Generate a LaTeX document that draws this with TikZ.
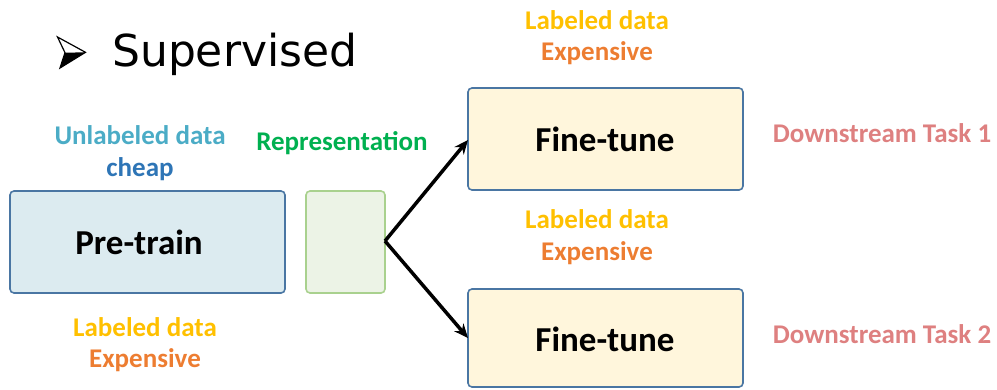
\documentclass[tikz,border=0pt]{standalone}
\usepackage{fontspec}
\setmainfont{Carlito}
\newfontfamily\titlefont{DejaVu Sans}
\usetikzlibrary{arrows.meta}
\definecolor{ptfill}{HTML}{DCEBF0}
\definecolor{ptedge}{HTML}{4A76A3}
\definecolor{repfill}{HTML}{ECF3E6}
\definecolor{repedge}{HTML}{A9D18E}
\definecolor{ftfill}{HTML}{FFF6DC}
\definecolor{unlab}{HTML}{4BACC6}
\definecolor{cheapc}{HTML}{2E75B6}
\definecolor{repc}{HTML}{00B050}
\definecolor{labc}{HTML}{FFC000}
\definecolor{expc}{HTML}{ED7D31}
\definecolor{taskc}{HTML}{DE8080}
\tikzset{
  stagebox/.style={draw=ptedge, line width=1.6pt, rounded corners=4pt},
  boxlabel/.style={font=\fontsize{35}{40}\selectfont\bfseries, text=black},
  note/.style={font=\fontsize{27}{31}\selectfont\bfseries, inner sep=0pt},
  link/.style={line width=3.5pt, -{Stealth[length=14pt,width=12pt]}},
}
\begin{document}
\begin{tikzpicture}[x=1pt,y=-1pt]
\useasboundingbox (0,0) rectangle (997,389);

% heading: lit arrowhead bullet and title
\draw[line width=1.2pt, line join=miter] (57.5,37) -- (85.5,52.3) -- (60,68) -- (65,52.7) -- cycle;
\fill (65,52.7) -- (85.5,52.3) -- (60,68) -- cycle;
\node[font=\titlefont\fontsize{44}{50}\selectfont, inner sep=0pt, anchor=west] (title) at (112,54) {Supervised};

% boxes
\draw[stagebox, fill=ptfill] (10,191) rectangle (285,293);
\node[boxlabel] (pretrain) at (139,242) {Pre-train};
\draw[stagebox, draw=repedge, fill=repfill] (306,191) rectangle (385,293);
\coordinate (repr) at (385,241);
\draw[stagebox, fill=ftfill] (468,88) rectangle (743,190);
\node[boxlabel] (ft1) at (605,139) {Fine-tune};
\draw[stagebox, fill=ftfill] (468,289) rectangle (743,387);
\node[boxlabel] (ft2) at (605,339) {Fine-tune};
\coordinate (ft1in) at (468,140);
\coordinate (ft2in) at (468,338);

% connectors
\draw[link] (repr) -- (ft1in);
\draw[link] (repr) -- (ft2in);

% annotations
\node[note, text=unlab] (unl) at (140,135) {Unlabeled data};
\node[note, text=cheapc] (cheap) at (140,169) {cheap};
\node[note, text=repc] (rep) at (342,143) {Representation};
\node[note, text=labc] (lab0) at (145,327) {Labeled data};
\node[note, text=expc] (exp0) at (145,360) {Expensive};
\node[note, text=labc] (lab1) at (597,20) {Labeled data};
\node[note, text=expc] (exp1) at (597,53) {Expensive};
\node[note, text=labc] (lab2) at (597,219) {Labeled data};
\node[note, text=expc] (exp2) at (597,253) {Expensive};
\node[note, text=taskc] (task1) at (882,133) {Downstream Task 1};
\node[note, text=taskc] (task2) at (882,334) {Downstream Task 2};
\end{tikzpicture}
\end{document}
